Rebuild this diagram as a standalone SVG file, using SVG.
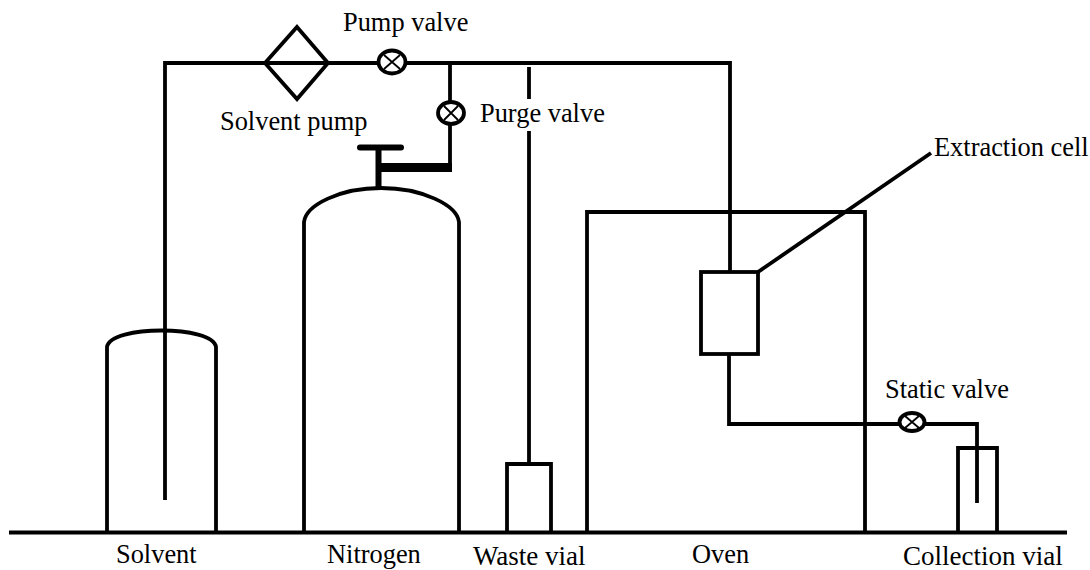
<svg xmlns="http://www.w3.org/2000/svg" width="1090" height="570" viewBox="0 0 1090 570">
<style>
.l{fill:none;stroke:#000;stroke-width:3.8}
.v{fill:#fff;stroke:#000;stroke-width:3.8}
.x{fill:none;stroke:#000;stroke-width:1.8}
text{font-family:"Liberation Serif","Times New Roman",serif;font-size:26.400px;fill:#000}
.w{font-size:27px}
</style>
<rect width="1090" height="570" fill="#fff"/>
<g id="connectors">
<path class="l" d="M165 500V63H730V272"/>
<path class="l" d="M450 63V165"/>
<path class="l" d="M529 67V99M529 131V464"/>
<path class="l" d="M729 354V424H977V503"/>
<path class="l" d="M758 272L931 153"/>
<path d="M378.500 187V145" fill="none" stroke="#000" stroke-width="6"/>
<path d="M379 163H452V172H379Z" fill="#000"/>
<path d="M360 147.500H401" fill="none" stroke="#000" stroke-width="6" stroke-linecap="round"/>
</g>
<g id="ground"><path class="l" d="M9 532.500H1067"/></g>
<g id="solvent-pump"><path class="l" d="M297 27L328 63L297 99L265 63Z"/><text x="220" y="130">Solvent pump</text></g>
<g id="pump-valve"><ellipse class="v" cx="392" cy="62" rx="13.500" ry="11.500"/><path class="x" d="M384 55L400 69M400 55L384 69"/><text x="343" y="31">Pump valve</text></g>
<g id="purge-valve"><ellipse class="v" cx="451" cy="113" rx="13" ry="11"/><path class="x" d="M444 106L458 120M458 106L444 120"/><text x="480" y="122">Purge valve</text></g>
<g id="static-valve"><ellipse class="v" cx="912" cy="422" rx="12.500" ry="9"/><path class="x" d="M905 416L919 428M919 416L905 428"/><text x="885" y="398">Static valve</text></g>
<g id="solvent"><path class="l" d="M107 532V347C110 325 213 325 216 347V532"/><text x="116" y="563">Solvent</text></g>
<g id="nitrogen"><path class="l" d="M304 532V222C306 205 340 188 381 188S457 205 459 222V532"/><text x="327" y="563">Nitrogen</text></g>
<g id="waste-vial"><path class="l" d="M507 532V464H551V532"/><text class="w" x="473" y="565">Waste vial</text></g>
<g id="oven"><path class="l" d="M587 532V212H865V532"/><text x="692" y="563">Oven</text></g>
<g id="extraction-cell"><rect class="v" x="701" y="272" width="57" height="82"/><text x="934" y="156">Extraction cell</text></g>
<g id="collection-vial"><path class="l" d="M958 532V448H997V532"/><text class="w" x="903" y="565">Collection vial</text></g>
</svg>
